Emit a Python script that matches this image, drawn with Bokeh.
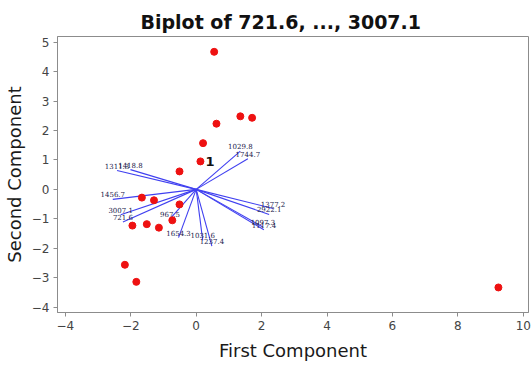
from bokeh.plotting import figure
from bokeh.models import FixedTicker, ColumnDataSource, Range1d
from bokeh.core.properties import value
from bokeh.embed import file_html
from bokeh.resources import INLINE

# principal component scores of the observations
score_x = [0.55, 1.35, 1.71, 0.62, 0.21, 0.13, -0.51, -1.66, -1.29, -0.51,
           -0.73, -1.95, -1.51, -1.14, -2.18, -1.83, 9.24]
score_y = [4.67, 2.48, 2.43, 2.23, 1.57, 0.95, 0.61, -0.28, -0.37, -0.51,
           -1.05, -1.23, -1.18, -1.30, -2.56, -3.14, -3.33]

# loading vectors of the variables (wavenumbers)
var_names = ["1029.8", "1744.7", "1311.3", "1418.8", "1456.7", "3007.1",
             "721.6", "967.5", "1654.3", "1031.6", "1237.4", "1377.2",
             "2922.1", "1117.4", "1097.3"]
load_x = [1.35, 1.58, -2.42, -2.01, -2.55, -2.31, -2.24, -0.80, -0.54,
          0.20, 0.48, 2.35, 2.23, 2.07, 2.04]
load_y = [1.30, 1.04, 0.64, 0.67, -0.34, -0.86, -1.11, -1.00, -1.64,
          -1.73, -1.93, -0.65, -0.85, -1.37, -1.28]

x_ticks = [-4, -2, 0, 2, 4, 6, 8, 10]
y_ticks = [-4, -3, -2, -1, 0, 1, 2, 3, 4, 5]

p = figure(width=532, height=365, output_backend="svg", toolbar_location=None,
           x_range=Range1d(-4.24, 10.16), y_range=Range1d(-4.18, 5.19),
           min_border_left=57, min_border_right=4, min_border_top=36,
           min_border_bottom=53, background_fill_color="white",
           border_fill_color="white")

p.title.text = "Biplot of 721.6, ..., 3007.1"
p.title.text_font = "DejaVu Sans"
p.title.text_font_size = "19px"
p.title.text_font_style = "bold"
p.title.text_color = "#111111"
p.title.align = "left"
p.title.offset = 83
p.title.standoff = 7

p.grid.visible = False
p.outline_line_color = "#8c8c8c"
p.outline_line_width = 1

for ax, ticks in ((p.xaxis, x_ticks), (p.yaxis, y_ticks)):
    ax.ticker = FixedTicker(ticks=ticks)
    ax.axis_line_color = "#8c8c8c"
    ax.major_tick_line_color = "#8c8c8c"
    ax.major_tick_out = 4
    ax.major_tick_in = 0
    ax.minor_tick_line_color = None
    ax.major_label_text_font = "DejaVu Sans"
    ax.major_label_text_font_size = "12px"
    ax.major_label_text_color = "#444444"
    ax.axis_label_text_font = "DejaVu Sans"
    ax.axis_label_text_font_size = "18px"
    ax.axis_label_text_font_style = "normal"
    ax.axis_label_text_color = "#1a1a1a"

p.xaxis.axis_label = "First Component"
p.yaxis.axis_label = "Second Component"
p.xaxis.axis_label_standoff = 7
p.yaxis.axis_label_standoff = 4
p.yaxis.major_label_standoff = 4
p.xaxis.major_label_standoff = 4

# loading vectors drawn from the origin
vec = ColumnDataSource(dict(x0=[0] * len(load_x), y0=[0] * len(load_y),
                            x1=load_x, y1=load_y, name=var_names))
p.segment("x0", "y0", "x1", "y1", source=vec, line_color="#4040f0",
          line_width=1.1)
p.text("x1", "y1", text="name", source=vec, text_font=value("DejaVu Serif"),
       text_font_size="7px", text_color="#20204a", text_align="center",
       text_baseline="bottom", y_offset=-2)

# observation scores
p.scatter(score_x, score_y, size=7, fill_color="#ee1111", line_color="#ee1111")

# the first observation is labelled
p.text([score_x[5]], [score_y[5]], text=["1"], text_font=value("DejaVu Sans"),
       text_font_size="13px", text_font_style="bold", text_color="#111111",
       text_baseline="middle", x_offset=5)

open("out.html", "w").write(file_html(p, INLINE))
